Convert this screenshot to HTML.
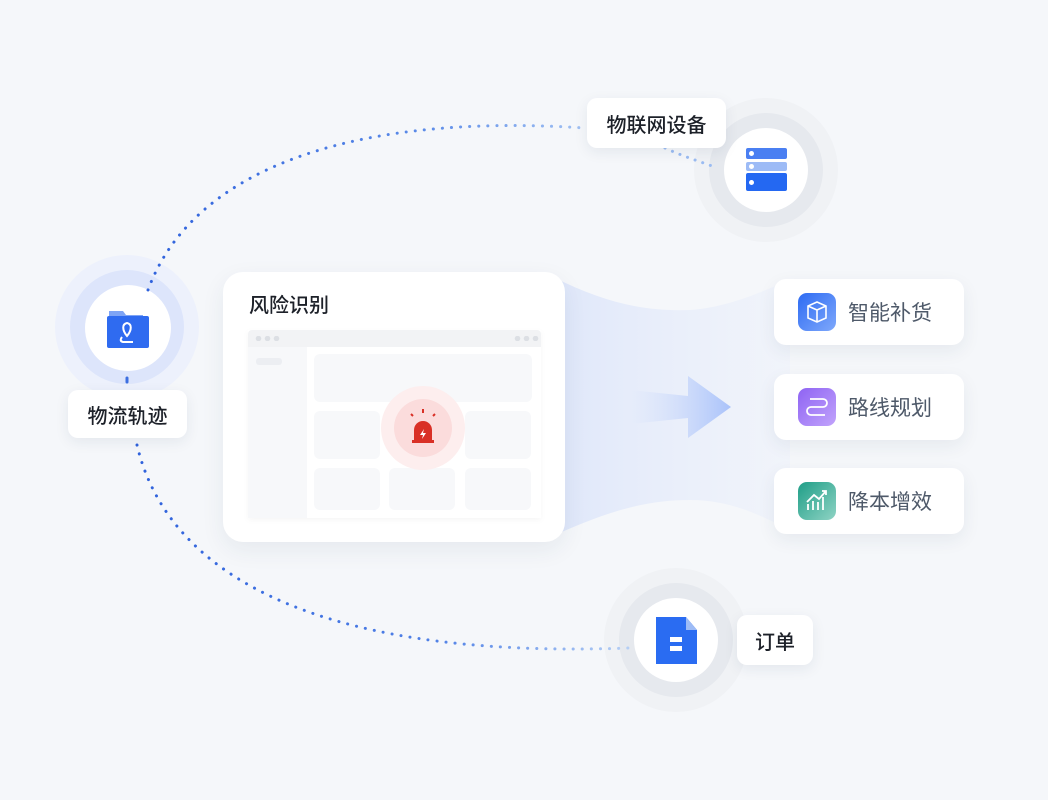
<!DOCTYPE html>
<html><head><meta charset="utf-8"><style>
html,body{margin:0;padding:0}
body{width:1048px;height:800px;background:#f5f7fa;position:relative;overflow:hidden;font-family:"Liberation Sans","Noto Sans CJK SC",sans-serif}
.a{position:absolute}
.lbl{position:absolute;background:#fff;border-radius:10px;box-shadow:0 4px 14px rgba(30,50,90,.08);font-size:20px;color:#1d2129;display:flex;align-items:center;justify-content:center;font-weight:500}
.card{position:absolute;left:774px;width:190px;height:66px;background:#fff;border-radius:12px;box-shadow:0 6px 18px rgba(30,50,90,.07)}
.card .ic{position:absolute;left:24px;top:14px;width:38px;height:38px;border-radius:9px}
.card .t{position:absolute;left:74px;top:2px;line-height:66px;font-size:21px;color:#4e5969}
.c{position:absolute;border-radius:50%}
.blk{position:absolute;background:#f7f8fa;border-radius:6px}
</style></head><body>
<svg class="a" style="left:0;top:0" width="1048" height="800">
<defs>
<linearGradient id="fl" x1="0" x2="1"><stop offset="0" stop-color="#dfe7fa"/><stop offset="1" stop-color="#eef2fb" stop-opacity=".6"/></linearGradient>
<linearGradient id="ar" x1="0" x2="1"><stop offset="0" stop-color="#c9d8fb" stop-opacity="0"/><stop offset="1" stop-color="#a9c2fa"/></linearGradient>
</defs>
<path d="M555 278 C600 300 640 312 690 310 C730 307 760 292 790 280 L790 530 C760 515 730 500 690 500 C640 500 600 515 555 535 Z" fill="url(#fl)"/>
<path d="M630 390 L688 396 L688 376 L731 407 L688 438 L688 418 L630 424 Z" fill="url(#ar)"/>
</svg>
<!-- left node -->
<div class="c" style="left:55px;top:255px;width:144px;height:144px;background:#edf1fc"></div>
<div class="c" style="left:70px;top:270px;width:114px;height:114px;background:#dde5fb"></div>
<div class="c" style="left:85px;top:285px;width:86px;height:86px;background:#fff"></div>
<svg class="a" style="left:105px;top:307px" width="44" height="42"><path d="M4 4 H18 L21 8 H38 V40 H4 Z" fill="#7ea4f5"/><rect x="2" y="9" width="42" height="32" rx="2" fill="#2f6bf0"/><path d="M22 29 C17 23 17 17 22 16 C27 17 27 23 22 29 Z" fill="none" stroke="#fff" stroke-width="2"/><path d="M17 30 Q14 34 18 35 H28" fill="none" stroke="#fff" stroke-width="2"/></svg>
<!-- top node -->
<div class="c" style="left:694px;top:98px;width:144px;height:144px;background:#f0f2f5"></div>
<div class="c" style="left:709px;top:113px;width:114px;height:114px;background:#e6e9ee"></div>
<div class="c" style="left:724px;top:128px;width:84px;height:84px;background:#fff"></div>
<div class="a" style="left:746px;top:148px;width:41px;height:11px;background:#4a7ff2;border-radius:2px"></div>
<div class="a" style="left:746px;top:162px;width:41px;height:9px;background:#9dbbf6;border-radius:2px"></div>
<div class="a" style="left:746px;top:173px;width:41px;height:18px;background:#2468f2;border-radius:2px"></div>
<div class="c" style="left:749px;top:151px;width:5px;height:5px;background:#fff"></div>
<div class="c" style="left:749px;top:164px;width:5px;height:5px;background:#fff"></div>
<div class="c" style="left:749px;top:180px;width:5px;height:5px;background:#fff"></div>
<!-- bottom node -->
<div class="c" style="left:604px;top:568px;width:144px;height:144px;background:#f0f2f5"></div>
<div class="c" style="left:619px;top:583px;width:114px;height:114px;background:#e6e9ee"></div>
<div class="c" style="left:634px;top:598px;width:84px;height:84px;background:#fff"></div>
<svg class="a" style="left:655px;top:617px" width="44" height="48"><path d="M1 0 H31 L42 13 V47 H1 Z" fill="#2a6cf2"/><path d="M31 0 L42 13 H31 Z" fill="#9dbbf6"/><rect x="15" y="20" width="12" height="5" fill="#fff"/><rect x="15" y="29" width="12" height="5" fill="#fff"/></svg>
<!-- arcs on top -->
<svg class="a" style="left:0;top:0" width="1048" height="800">
<defs>
<linearGradient id="g1" gradientUnits="userSpaceOnUse" x1="148" y1="0" x2="600" y2="0"><stop offset="0" stop-color="#2f62dc"/><stop offset="0.6" stop-color="#5a8ae8"/><stop offset="1" stop-color="#a8c6f3"/></linearGradient>
<linearGradient id="g2" gradientUnits="userSpaceOnUse" x1="137" y1="0" x2="630" y2="0"><stop offset="0" stop-color="#2f62dc"/><stop offset="0.6" stop-color="#4f80e6"/><stop offset="1" stop-color="#b5cff5"/></linearGradient>
</defs>
<path d="M148 290 C190 175 340 112 585 128" fill="none" stroke="url(#g1)" stroke-width="3" stroke-dasharray="0.1 9" stroke-linecap="round"/>
<path d="M665 148 C680 155 695 160 712 166" fill="none" stroke="#9bbcf2" stroke-width="3" stroke-dasharray="0.1 8" stroke-linecap="round"/>
<path d="M137 445 C165 565 300 660 628 648" fill="none" stroke="url(#g2)" stroke-width="3" stroke-dasharray="0.1 9" stroke-linecap="round"/>
<path d="M127 378 L127 382" stroke="#3d6fe0" stroke-width="3" stroke-linecap="round"/>
</svg>
<div class="lbl" style="left:68px;top:390px;width:119px;height:48px">物流轨迹</div>
<div class="lbl" style="left:587px;top:98px;width:139px;height:50px">物联网设备</div>
<div class="lbl" style="left:737px;top:615px;width:76px;height:50px">订单</div>
<!-- main card -->
<div class="a" style="left:223px;top:272px;width:342px;height:270px;background:#fff;border-radius:20px;box-shadow:0 8px 24px rgba(30,50,90,.07)"></div>
<div class="a" style="left:249px;top:289px;font-size:20px;color:#1d2129;font-weight:500">风险识别</div>
<div class="a" style="left:248px;top:330px;width:293px;height:188px;background:#fff;box-shadow:0 2px 6px rgba(0,0,0,.04)"></div>
<div class="a" style="left:248px;top:330px;width:293px;height:17px;background:#f2f3f5;border-radius:4px 4px 0 0"></div>
<div class="a" style="left:248px;top:347px;width:59px;height:171px;background:#f7f8fa"></div>
<div class="a" style="left:256px;top:358px;width:26px;height:7px;background:#eceef2;border-radius:3px"></div>
<div class="a" style="left:254px;top:336px;width:27px;height:5px;background:radial-gradient(circle,#dcdfe4 2.5px,transparent 3px) 0 0/9px 5px repeat-x"></div>
<div class="a" style="left:513px;top:336px;width:27px;height:5px;background:radial-gradient(circle,#dcdfe4 2.5px,transparent 3px) 0 0/9px 5px repeat-x"></div>
<div class="blk" style="left:314px;top:354px;width:218px;height:48px"></div>
<div class="blk" style="left:314px;top:411px;width:66px;height:48px"></div>
<div class="blk" style="left:465px;top:411px;width:66px;height:48px"></div>
<div class="blk" style="left:314px;top:468px;width:66px;height:42px"></div>
<div class="blk" style="left:389px;top:468px;width:66px;height:42px"></div>
<div class="blk" style="left:465px;top:468px;width:66px;height:42px"></div>
<div class="c" style="left:381px;top:386px;width:84px;height:84px;background:#fdeeee"></div>
<div class="c" style="left:394px;top:399px;width:58px;height:58px;background:#fbdcdc"></div>
<svg class="a" style="left:405px;top:408px" width="36" height="36"><path d="M9 34 V22 A9 9 0 0 1 27 22 V34 Z" fill="#d93026"/><rect x="7" y="32" width="22" height="3" fill="#d93026"/><path d="M19 21 L15 27 H18 L17 31 L21 25 H18 Z" fill="#fff"/><path d="M18 1 V5 M6 6 L8 8 M30 6 L28 8" stroke="#d93026" stroke-width="2"/></svg>
<!-- right cards -->
<div class="card" style="top:279px"><div class="ic" style="background:linear-gradient(135deg,#2d6bf3,#7fa8fb)"><svg width="38" height="38"><path d="M19 9 L28 13 V25 L19 29 L10 25 V13 Z M10 13 L19 17 L28 13 M19 17 V29" fill="none" stroke="#fff" stroke-width="1.6"/></svg></div><div class="t">智能补货</div></div>
<div class="card" style="top:374px"><div class="ic" style="background:linear-gradient(135deg,#8e63f3,#c1a3fb)"><svg width="38" height="38"><path d="M12 11 H25 A4 4 0 0 1 25 19 H13 A4 4 0 0 0 13 27 H27" fill="none" stroke="#fff" stroke-width="1.8"/></svg></div><div class="t">路线规划</div></div>
<div class="card" style="top:468px"><div class="ic" style="background:linear-gradient(135deg,#1f9e87,#8fd3c4)"><svg width="38" height="38"><path d="M10 28 V22 M15 28 V19 M20 28 V20 M25 28 V15 M9 20 L16 13 L21 17 L28 9 M24 9 H28 V13" fill="none" stroke="#fff" stroke-width="1.8"/></svg></div><div class="t">降本增效</div></div>
</body></html>
